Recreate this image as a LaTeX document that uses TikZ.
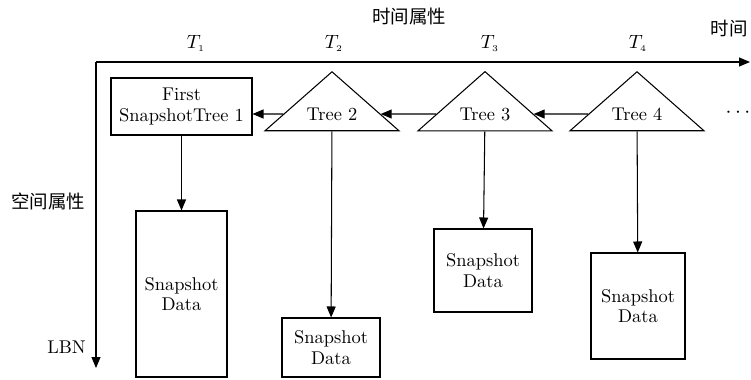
\documentclass[tikz,border=0pt]{standalone}
\usepackage{fontspec}
\newfontfamily\cjk{Noto Sans CJK SC}
\usetikzlibrary{shapes.geometric,arrows.meta}
\begin{document}
\begin{tikzpicture}[x=0.02cm,y=-0.02cm,
    every node/.style={font=\fontsize{10.5}{11.5}\selectfont},
    box/.style={rectangle,draw,line width=0.6pt,inner sep=0pt,align=center},
    tree/.style={isosceles triangle,shape border rotate=90,isosceles triangle apex angle=97,
        isosceles triangle stretches,draw,line width=0.6pt,inner xsep=2pt,inner ysep=5.9pt,
        minimum width=2.68cm,minimum height=1.18cm},
    arr/.style={line width=0.6pt,-{Triangle[length=0.22cm,width=0.18cm]}}]
\useasboundingbox (0,0) rectangle (751,379);
%axes
        \coordinate (o) at (96,62);
        \coordinate (tend) at (750,62);
        \coordinate (lend) at (96,368);
        \draw [arr] (o) -- (tend);
        \draw [arr] (o) -- (lend);
        \node (tattr) at (409,16) {\cjk 时间属性};
        \node (tlab) at (729,29) {\cjk 时间};
        \node (sattr) at (48,201) {\cjk 空间属性};
        \node[anchor=east] (lbn) at (92,347) {LBN};
        \node (t1) at (196,43) {$T_{\scriptscriptstyle 1}$};
        \node (t2) at (334,43) {$T_{\scriptscriptstyle 2}$};
        \node (t3) at (490,43) {$T_{\scriptscriptstyle 3}$};
        \node (t4) at (638,43) {$T_{\scriptscriptstyle 4}$};
%trees
        \node[box,minimum width=2.82cm,minimum height=1.14cm] (tree1) at (181.5,106.5) {First\\SnapshotTree 1};
        \node[tree] (tree2) at (332,114) {Tree 2};
        \node[tree] (tree3) at (485,114) {Tree 3};
        \node[tree] (tree4) at (637,114) {Tree 4};
        \node (dots) at (738,113) {\large$\cdots$};
        \draw [arr] (tree4) -- (tree3);
        \draw [arr] (tree3) -- (tree2);
        \draw [arr] (tree2) -- (tree2 -| tree1.east);
%data
        \node[box,minimum width=1.82cm,minimum height=3.32cm] (data1) at (181.5,294) {Snapshot\\Data};
        \node[box,minimum width=1.96cm,minimum height=1.18cm] (data2) at (331,347.5) {Snapshot\\Data};
        \node[box,minimum width=1.96cm,minimum height=1.66cm] (data3) at (483,270.5) {Snapshot\\Data};
        \node[box,minimum width=1.88cm,minimum height=2.12cm] (data4) at (638,306) {Snapshot\\Data};
        \draw [arr] (tree1) -- (data1);
        \draw [arr] (tree2) -- (data2);
        \draw [arr] (tree3) -- (data3);
        \draw [arr] (tree4) -- (data4);
\end{tikzpicture}
\end{document}
